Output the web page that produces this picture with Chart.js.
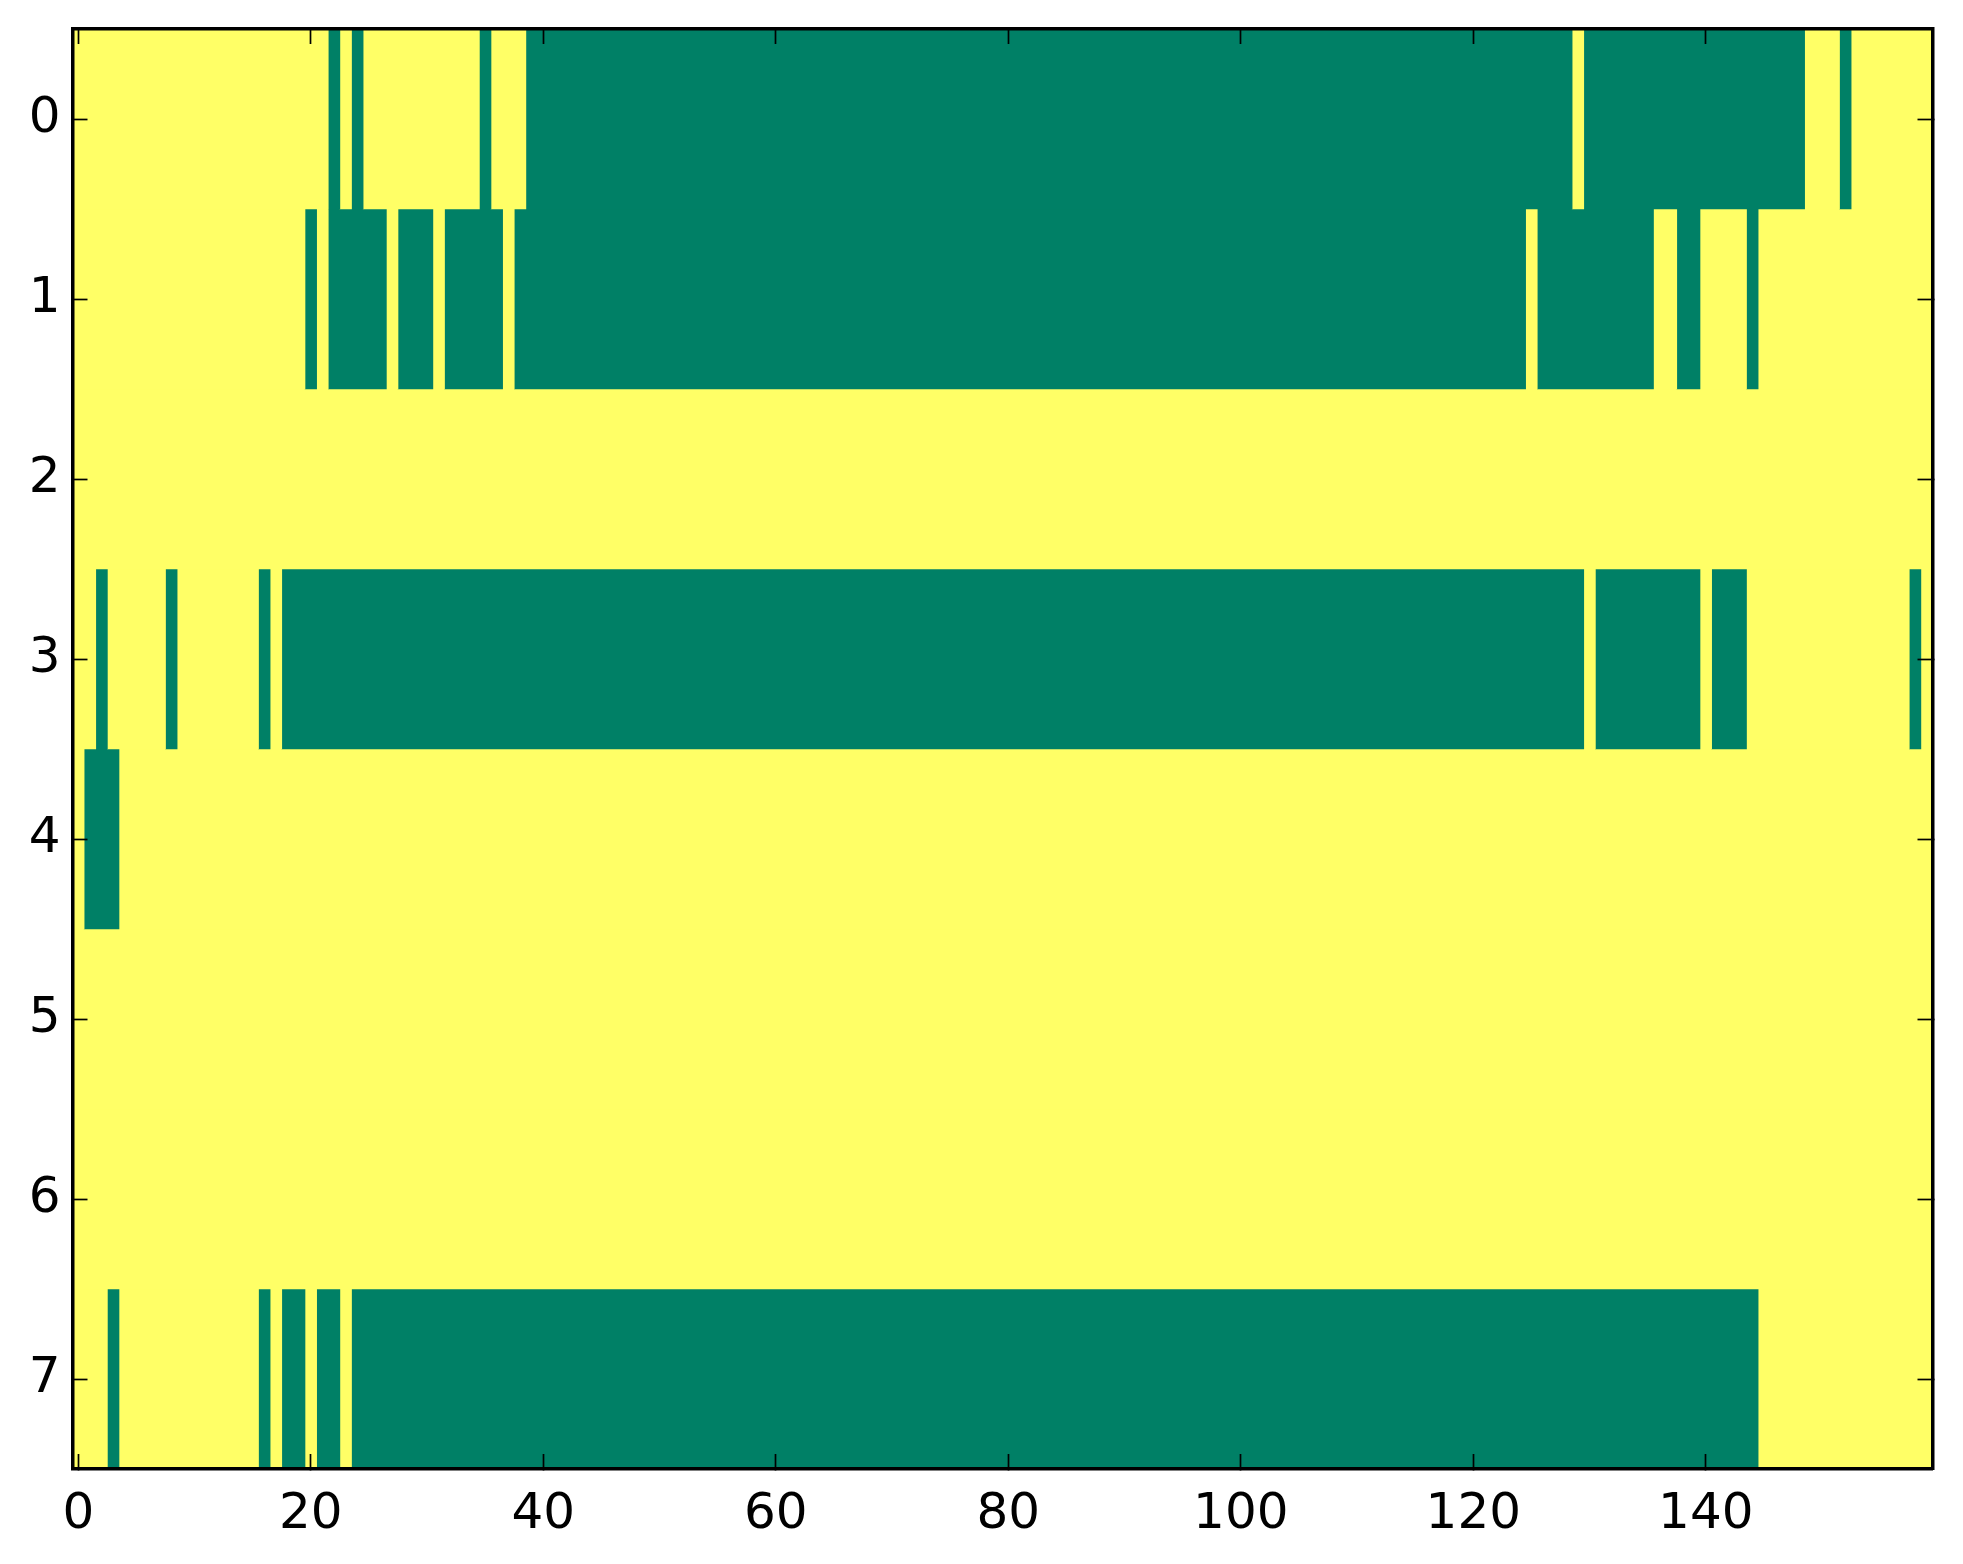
<!DOCTYPE html>
<html>
<head>
<meta charset="utf-8">
<script src="https://cdn.jsdelivr.net/npm/chart.js@4.4.1/dist/chart.umd.min.js"></script>
<style>
  html, body { margin: 0; padding: 0; background: #fff; }
  canvas { display: block; }
</style>
</head>
<body>
<canvas id="chart" width="1963" height="1564"></canvas>
<script>
// grid: 8 rows x 160 columns, cells are 0 (yellow) or 1 (green)
const rowLabels = ["0", "1", "2", "3", "4", "5", "6", "7"];
const columnCount = 160;
const xTickValues = [0, 20, 40, 60, 80, 100, 120, 140];

// runs of "1" cells per row, [first column, last column]
const row0 = [[22, 22], [24, 24], [35, 35], [39, 128], [130, 148], [152, 152]];
const row1 = [[20, 20], [22, 26], [28, 30], [32, 36], [38, 124], [126, 135], [138, 139], [144, 144]];
const row2 = [];
const row3 = [[2, 2], [8, 8], [16, 16], [18, 129], [131, 139], [141, 143], [158, 158]];
const row4 = [[1, 3]];
const row5 = [];
const row6 = [];
const row7 = [[3, 3], [16, 16], [18, 19], [21, 22], [24, 144]];

const rows = [row0, row1, row2, row3, row4, row5, row6, row7];

// summer colormap ends
const cellColors = ["#ffff66", "#008066"];

// expand runs into a full 0/1 matrix, then split every row into runs of equal value
const matrix = rows.map((runs) => {
  const cells = new Array(columnCount).fill(0);
  runs.forEach(([a, b]) => {
    for (let c = a; c <= b; c++) cells[c] = 1;
  });
  return cells;
});

const datasets = [];
matrix.forEach((cells, r) => {
  let start = 0;
  for (let c = 1; c <= columnCount; c++) {
    if (c === columnCount || cells[c] !== cells[start]) {
      datasets.push({
        data: [{ x: [start - 0.5, c - 0.5], y: rowLabels[r] }],
        backgroundColor: cellColors[cells[start]],
        borderWidth: 0,
        grouped: false,
        barPercentage: 1,
        categoryPercentage: 1,
      });
      start = c;
    }
  }
});

const tickFont = { family: "DejaVu Sans", size: 50 };

const frameGrid = {
  drawOnChartArea: false,
  tickLength: -15,
  tickWidth: 1.7,
  tickColor: "#000",
  offset: false,
  z: 1,
};
const frameBorder = { display: true, color: "#000", width: 3.5, z: 1 };

// fixed axis sizes so the plot area sits where the reference has it
const fixSize = (w, h) => (s) => {
  if (w !== null) s.width = w;
  if (h !== null) s.height = h;
  s.paddingTop = 0;
  s.paddingBottom = 0;
  s.paddingLeft = 0;
  s.paddingRight = 0;
};

// plot area background
const areaFill = {
  id: "areaFill",
  beforeDraw(chart) {
    const { ctx, chartArea } = chart;
    ctx.save();
    ctx.fillStyle = "#fff";
    ctx.fillRect(0, 0, chart.width, chart.height);
    ctx.fillStyle = cellColors[0];
    ctx.fillRect(chartArea.left, chartArea.top, chartArea.right - chartArea.left, chartArea.bottom - chartArea.top);
    ctx.restore();
  },
};

new Chart(document.getElementById("chart"), {
  type: "bar",
  data: { labels: rowLabels, datasets: datasets },
  options: {
    indexAxis: "y",
    responsive: false,
    animation: false,
    devicePixelRatio: 1,
    layout: { padding: 0 },
    plugins: {
      legend: { display: false },
      tooltip: { enabled: false },
    },
    scales: {
      x: {
        type: "linear",
        position: "bottom",
        min: -0.5,
        max: columnCount - 0.5,
        afterBuildTicks: (s) => { s.ticks = xTickValues.map((v) => ({ value: v })); },
        ticks: { font: tickFont, color: "#000", padding: 31, maxRotation: 0, autoSkip: false, z: 1 },
        grid: frameGrid,
        border: frameBorder,
        afterFit: fixSize(null, 95),
      },
      x2: {
        type: "linear",
        position: "top",
        min: -0.5,
        max: columnCount - 0.5,
        afterBuildTicks: (s) => { s.ticks = xTickValues.map((v) => ({ value: v })); },
        ticks: { display: false },
        grid: frameGrid,
        border: frameBorder,
        afterFit: fixSize(null, 29),
      },
      y: {
        type: "category",
        labels: rowLabels,
        position: "left",
        offset: true,
        ticks: { font: tickFont, color: "#000", padding: 27, z: 1 },
        grid: frameGrid,
        border: frameBorder,
        afterFit: fixSize(72.5, null),
      },
      y2: {
        type: "category",
        labels: rowLabels,
        position: "right",
        offset: true,
        ticks: { display: false },
        grid: frameGrid,
        border: frameBorder,
        afterFit: fixSize(30.5, null),
      },
    },
  },
  plugins: [areaFill],
});
</script>
</body>
</html>
